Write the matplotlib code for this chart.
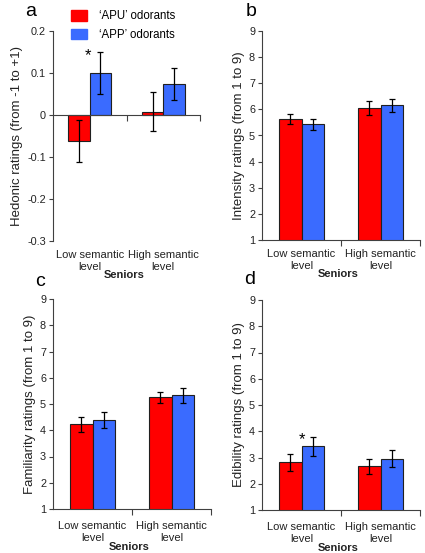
import matplotlib
matplotlib.use("Agg")
import matplotlib.pyplot as plt
import matplotlib.transforms as mtransforms
from matplotlib.patches import Patch

plt.rcParams['font.family'] = ['Liberation Sans', 'DejaVu Sans']

categories = ["Low semantic\nlevel", "High semantic\nlevel"]
series_names = ["\u2018APU\u2019 odorants", "\u2018APP\u2019 odorants"]
colors = ["#FF0000", "#3A6BFF"]

hedonic_apu = [-0.061, 0.008]
hedonic_apu_err = [0.050, 0.047]
hedonic_app = [0.100, 0.074]
hedonic_app_err = [0.051, 0.038]

intensity_apu = [5.62, 6.05]
intensity_apu_err = [0.19, 0.26]
intensity_app = [5.43, 6.15]
intensity_app_err = [0.22, 0.26]

familiarity_apu = [4.22, 5.26]
familiarity_apu_err = [0.30, 0.21]
familiarity_app = [4.38, 5.33]
familiarity_app_err = [0.30, 0.28]

edibility_apu = [2.82, 2.66]
edibility_apu_err = [0.32, 0.28]
edibility_app = [3.42, 2.95]
edibility_app_err = [0.36, 0.32]

panel_letters = ["a", "b", "c", "d"]
ylabels = ["Hedonic ratings (from -1 to +1)",
           "Intensity ratings (from 1 to 9)",
           "Familiarity ratings (from 1 to 9)",
           "Edibility ratings (from 1 to 9)"]
hedonic_ticks = [-0.3, -0.2, -0.1, 0, 0.1, 0.2]
hedonic_ticklabels = ["-0.3", "-0.2", "-0.1", "0", "0.1", "0.2"]
rating_ticks = [1, 2, 3, 4, 5, 6, 7, 8, 9]
xlabel = "Seniors"
star_text = "*"

W, H = 425, 553
fig = plt.figure(figsize=(W / 100, H / 100), dpi=100)

def px_axes(left, right, top, bottom):
    return fig.add_axes([left / W, 1 - bottom / H, (right - left) / W, (bottom - top) / H])

axes = [px_axes(53, 200, 31, 241), px_axes(262, 420, 31, 240),
        px_axes(53, 211, 299, 509), px_axes(262, 420, 300, 510)]

data = [(hedonic_apu, hedonic_apu_err, hedonic_app, hedonic_app_err),
        (intensity_apu, intensity_apu_err, intensity_app, intensity_app_err),
        (familiarity_apu, familiarity_apu_err, familiarity_app, familiarity_app_err),
        (edibility_apu, edibility_apu_err, edibility_app, edibility_app_err)]

cat_offsets = [-6.2, -6.2, -8.5, -8.5]
sen_offsets = [-21, -21, -23.5, -23.5]

axis_color = "#404040"
bw = 0.29
x = [0, 1]
for k, ax in enumerate(axes):
    apu, apue, app, appe = data[k]
    ax.bar([xi - bw / 2 for xi in x], apu, bw, color=colors[0], edgecolor="#202020", linewidth=0.8, zorder=2)
    ax.bar([xi + bw / 2 for xi in x], app, bw, color=colors[1], edgecolor="#202020", linewidth=0.8, zorder=2)
    ax.errorbar([xi - bw / 2 for xi in x], apu, yerr=apue, fmt="none", ecolor="black", elinewidth=0.9, capsize=2.5, capthick=0.9, zorder=3)
    ax.errorbar([xi + bw / 2 for xi in x], app, yerr=appe, fmt="none", ecolor="black", elinewidth=0.9, capsize=2.5, capthick=0.9, zorder=3)
    ax.set_xlim(-0.5, 1.5)
    if k == 0:
        ax.set_ylim(-0.3, 0.2)
        ax.set_yticks(hedonic_ticks)
        ax.set_yticklabels(hedonic_ticklabels)
        ax.spines['bottom'].set_position(('data', 0))
    else:
        ax.set_ylim(1, 9)
        ax.set_yticks(rating_ticks)
    ax.set_xticks([0.5, 1.5])
    ax.set_xticklabels([])
    ax.tick_params(axis='x', length=4, width=0.8, color=axis_color, direction='out')
    ax.tick_params(axis='y', length=3, width=0.8, color=axis_color, labelsize=7.8, pad=2, labelcolor="#222222")
    for s in ['top', 'right']:
        ax.spines[s].set_visible(False)
    for s in ['left', 'bottom']:
        ax.spines[s].set_color(axis_color)
        ax.spines[s].set_linewidth(0.8)
    ax.set_facecolor("none")
    ax.set_ylabel(ylabels[k], fontsize=9.5, color="#222222", labelpad=3)
    trans = mtransforms.blended_transform_factory(ax.transData, ax.transAxes)
    for i, c in enumerate(categories):
        ax.annotate(c, xy=(x[i], 0), xycoords=trans, xytext=(0, cat_offsets[k]), textcoords='offset points',
                    ha='center', va='top', fontsize=8, linespacing=1.3, color="#222222")
    ax.annotate(xlabel, xy=(0.47, 0), xycoords=trans, xytext=(0, sen_offsets[k]), textcoords='offset points',
                ha='center', va='top', fontsize=8, fontweight='bold', color="#222222")

# significance stars
axes[0].annotate(star_text, xy=(x[0], hedonic_app[0] + hedonic_app_err[0]), xytext=(-1, -8),
                 textcoords='offset points', ha='center', va='bottom', fontsize=12)
axes[3].annotate(star_text, xy=(x[0], edibility_app[0] + edibility_app_err[0]), xytext=(0, -7),
                 textcoords='offset points', ha='center', va='bottom', fontsize=12)

# panel letters
letter_pos = [(31, 12), (251, 11), (40, 281), (250, 280)]
for L, (px, py) in zip(panel_letters, letter_pos):
    fig.text(px / W, 1 - py / H, L, fontsize=14, ha='center', va='center')

handles = [Patch(facecolor=colors[0], edgecolor=colors[0]), Patch(facecolor=colors[1], edgecolor=colors[1])]
fig.legend(handles, series_names, loc='upper left', bbox_to_anchor=(71 / W, 1 - 10 / H),
           bbox_transform=fig.transFigure, frameon=False, fontsize=8.3, borderpad=0,
           handlelength=1.35, handleheight=1.05, handletextpad=1.05, labelspacing=0.55, borderaxespad=0)

fig.savefig("out.png", dpi=100)
